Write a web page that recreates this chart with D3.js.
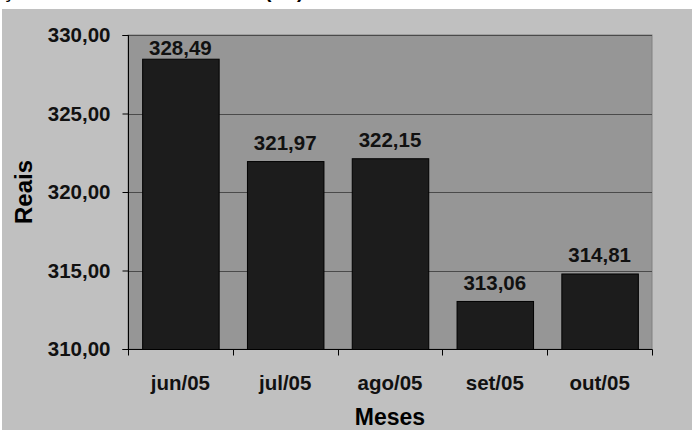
<!DOCTYPE html>
<html><head><meta charset="utf-8">
<script src="https://cdn.jsdelivr.net/npm/d3@7"></script>
<style>
html,body{margin:0;padding:0;background:#fff;}
svg{display:block;font-family:Arial,"Liberation Sans",sans-serif;}
</style></head>
<body><svg id="c" width="692" height="430"></svg>
<script>
const categories = ["jun/05","jul/05","ago/05","set/05","out/05"];
const values = [328.49, 321.97, 322.15, 313.06, 314.81];
const valueLabels = ["328,49","321,97","322,15","313,06","314,81"];
const yTicks = [310, 315, 320, 325, 330];
const yTickLabels = ["310,00","315,00","320,00","325,00","330,00"];
const titleText = "Evolução do valor médio mensal (R$)";
const xTitle = "Meses";
const yTitle = "Reais";

const svg = d3.select("#c");
const W = 692, H = 430;
const m = {left:128, top:35, right:652, bottom:349};

svg.append("rect").attr("x",0).attr("y",0).attr("width",W).attr("height",H).attr("fill","#fff");

// cut-off title above (only descenders visible)
svg.append("text").attr("x",-52).attr("y",-2).attr("font-size",20).attr("font-weight","bold")
  .attr("fill","#000").text(titleText);

svg.append("rect").attr("x",2).attr("y",9).attr("width",W-2).attr("height",H-9).attr("fill","#c0c0c0");

const x = d3.scaleBand().domain(categories).range([m.left, m.right]).paddingInner(0.27).paddingOuter(0.135);
const y = d3.scaleLinear().domain([310,330]).range([m.bottom, m.top]);

svg.append("rect").attr("x",m.left).attr("y",m.top).attr("width",m.right-m.left).attr("height",m.bottom-m.top)
  .attr("fill","#969696").attr("stroke","#808080").attr("stroke-width",1);

// gridlines
svg.append("g").selectAll("line").data(yTicks.filter(t=>t>310)).join("line")
  .attr("x1",m.left).attr("x2",m.right)
  .attr("y1",d=>Math.round(y(d))+0.5).attr("y2",d=>Math.round(y(d))+0.5)
  .attr("stroke","#4a4a4a").attr("stroke-width",1);

// bars
svg.append("g").selectAll("rect").data(values).join("rect")
  .attr("x",(d,i)=>x(categories[i])+0.5)
  .attr("y",d=>y(d)+0.5)
  .attr("width",x.bandwidth())
  .attr("height",d=>m.bottom-y(d))
  .attr("fill","#1c1c1c").attr("stroke","#000").attr("stroke-width",1);

// value labels
svg.append("g").selectAll("text").data(values).join("text")
  .attr("x",(d,i)=>x(categories[i])+x.bandwidth()/2)
  .attr("y",d=>Math.max(y(d)-11, m.top+20))
  .attr("text-anchor","middle").attr("font-size",20.5).attr("font-weight","bold").attr("fill","#111")
  .text((d,i)=>valueLabels[i]);

// y axis
const yAxis = d3.axisLeft(y).tickValues(yTicks).tickSize(6).tickPadding(12)
  .tickFormat((d,i)=>yTickLabels[i]);
const gy = svg.append("g").attr("transform",`translate(${m.left+0.5},0)`).call(yAxis);
gy.select(".domain").attr("stroke","#000").attr("d",`M-6,${m.top+0.5}H0V${m.bottom+0.5}H-6`);
gy.selectAll(".tick line").attr("stroke","#000");
gy.selectAll(".tick text").attr("font-size",20.5).attr("font-weight","bold").attr("fill","#111")
  .attr("font-family","Arial, 'Liberation Sans', sans-serif");

// x axis
const xAxis = d3.axisBottom(x).tickSize(0).tickPadding(26);
const gx = svg.append("g").attr("transform",`translate(0,${m.bottom+0.5})`).call(xAxis);
gx.select(".domain").attr("stroke","#000").attr("d",`M${m.left},0H${m.right+0.5}`);
gx.selectAll(".tick text").attr("font-size",20.5).attr("font-weight","bold").attr("fill","#111")
  .attr("font-family","Arial, 'Liberation Sans', sans-serif");
// category boundary ticks
const bounds = categories.map(c=>x(c)-x.step()*x.paddingInner()/2).concat([m.right]);
gx.append("g").selectAll("line").data(bounds).join("line")
  .attr("x1",d=>Math.round(d)+0.5).attr("x2",d=>Math.round(d)+0.5).attr("y1",0).attr("y2",6)
  .attr("stroke","#000");

// axis titles
svg.append("text").attr("x",(m.left+m.right)/2).attr("y",425).attr("text-anchor","middle")
  .attr("font-size",23).attr("font-weight","bold").attr("fill","#000").text(xTitle);
svg.append("text").attr("transform",`translate(32,192) rotate(-90)`).attr("text-anchor","middle")
  .attr("font-size",24).attr("font-weight","bold").attr("fill","#000").text(yTitle);
</script></body></html>
